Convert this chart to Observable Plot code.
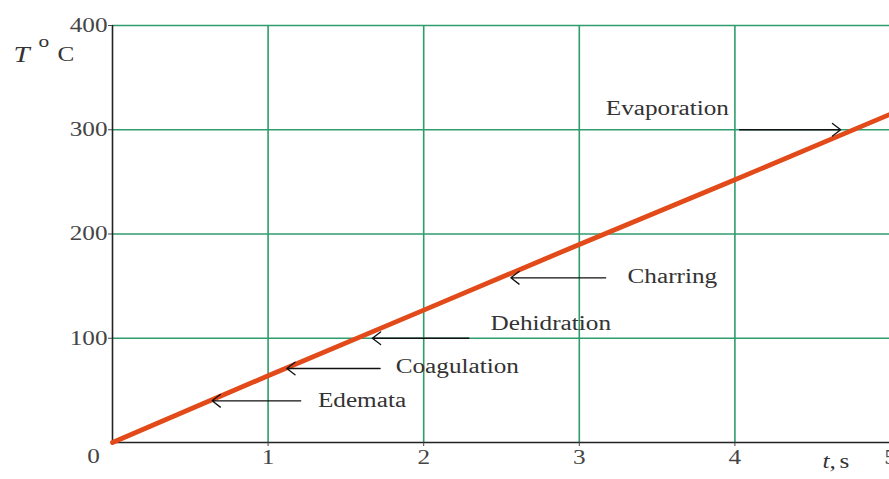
<!DOCTYPE html>
<html>
<head>
<meta charset="utf-8">
<script src="https://cdn.jsdelivr.net/npm/d3@7"></script>
<script src="https://cdn.jsdelivr.net/npm/@observablehq/plot@0.6"></script>
<style>
  html, body { margin: 0; padding: 0; background: #fff; overflow: hidden; }
</style>
</head>
<body>
<div id="chart"></div>
<script>
// Tissue temperature vs. exposure time
const times = [0, 1, 2, 3, 4, 5];
const temps = [0, 64, 127, 190, 252, 315];

const xTicks = [1, 2, 3, 4, 5];
const yTicks = [100, 200, 300, 400];

// Thermal damage stages marked along the curve
const stages = ["Edemata", "Coagulation", "Dehidration", "Charring", "Evaporation"];
const stageTip = [0.64, 1.12, 1.67, 2.56, 4.68];
const stageTail = [1.21, 1.72, 2.29, 3.17, 4.03];
const stageTemp = [40, 71, 100, 158, 300];
const labelTime = [1.32, 1.82, 2.43, 3.31, 3.17];
const labelTemp = [40, 73, 114, 159, 320];

const curve = times.map((t, i) => ({t, T: temps[i]}));
const arrows = stages.map((s, i) => ({tip: stageTip[i], tail: stageTail[i], T: stageTemp[i]}));
const labels = stages.map((s, i) => ({name: s, t: labelTime[i], T: labelTemp[i]}));

const serif = "'Liberation Serif', 'Times New Roman', serif";
const grid = "#2f9c6c";

const chart = Plot.plot({
  width: 889,
  height: 479,
  marginLeft: 112,
  marginRight: 0,
  marginTop: 25,
  marginBottom: 37,
  style: {background: "#fff", fontFamily: serif},
  x: {domain: [0, 5], range: [112, 890]},
  y: {domain: [0, 400], range: [442, 25]},
  marks: [
    Plot.gridX(xTicks, {stroke: grid, strokeOpacity: 1, strokeWidth: 1.6}),
    Plot.gridY(yTicks, {stroke: grid, strokeOpacity: 1, strokeWidth: 1.6}),
    Plot.ruleX([0], {stroke: "#222", strokeWidth: 1.6}),
    Plot.ruleY([0], {stroke: "#222", strokeWidth: 1.6}),
    Plot.axisX(xTicks, {tickSize: 4, tickPadding: 3, tickFormat: d3.format("d"), fontSize: 20, fontFamily: serif, color: "#444", label: null}),
    Plot.axisY(yTicks, {tickSize: 4, tickPadding: 1, tickFormat: d3.format("d"), fontSize: 20, fontFamily: serif, color: "#444", label: null}),
    Plot.text([{t: 0, T: 0}], {x: "t", y: "T", text: () => "0", dx: -19, dy: 14, fontSize: 20, fontFamily: serif, fill: "#444"}),
    Plot.line(curve, {x: "t", y: "T", stroke: "#e24a1a", strokeWidth: 4.8}),
    Plot.arrow(arrows, {x1: "tail", y1: "T", x2: "tip", y2: "T", stroke: "#111", strokeWidth: 1.3, headLength: 12, headAngle: 75}),
    Plot.text(labels, {x: "t", y: "T", text: "name", textAnchor: "start", fontSize: 20, fontFamily: serif, fill: "#333"}),
    // axis titles
    Plot.text(["T"], {frameAnchor: "top-left", dx: -99, dy: 20, textAnchor: "start", fontSize: 23, fontStyle: "italic", fontFamily: serif, fill: "#333"}),
    Plot.text(["o"], {frameAnchor: "top-left", dx: -74, dy: 9, textAnchor: "start", fontSize: 17, fontFamily: serif, fill: "#333"}),
    Plot.text(["C"], {frameAnchor: "top-left", dx: -55, dy: 21, textAnchor: "start", fontSize: 20, fontFamily: serif, fill: "#333"}),
    Plot.text(["t,"], {frameAnchor: "bottom-left", dx: 710, dy: 25, textAnchor: "start", fontSize: 20, fontStyle: "italic", fontFamily: serif, fill: "#333"}),
    Plot.text(["s"], {frameAnchor: "bottom-left", dx: 727, dy: 25, textAnchor: "start", fontSize: 20, fontFamily: serif, fill: "#333"})
  ]
});

document.getElementById("chart").appendChild(chart);

// widen the serif glyphs slightly
chart.querySelectorAll("text").forEach(el => {
  if (el.children.length) return;
  const len = el.getComputedTextLength();
  if (len > 0) {
    el.setAttribute("textLength", (len * 1.26).toFixed(1));
    el.setAttribute("lengthAdjust", "spacingAndGlyphs");
  }
});
</script>
</body>
</html>
